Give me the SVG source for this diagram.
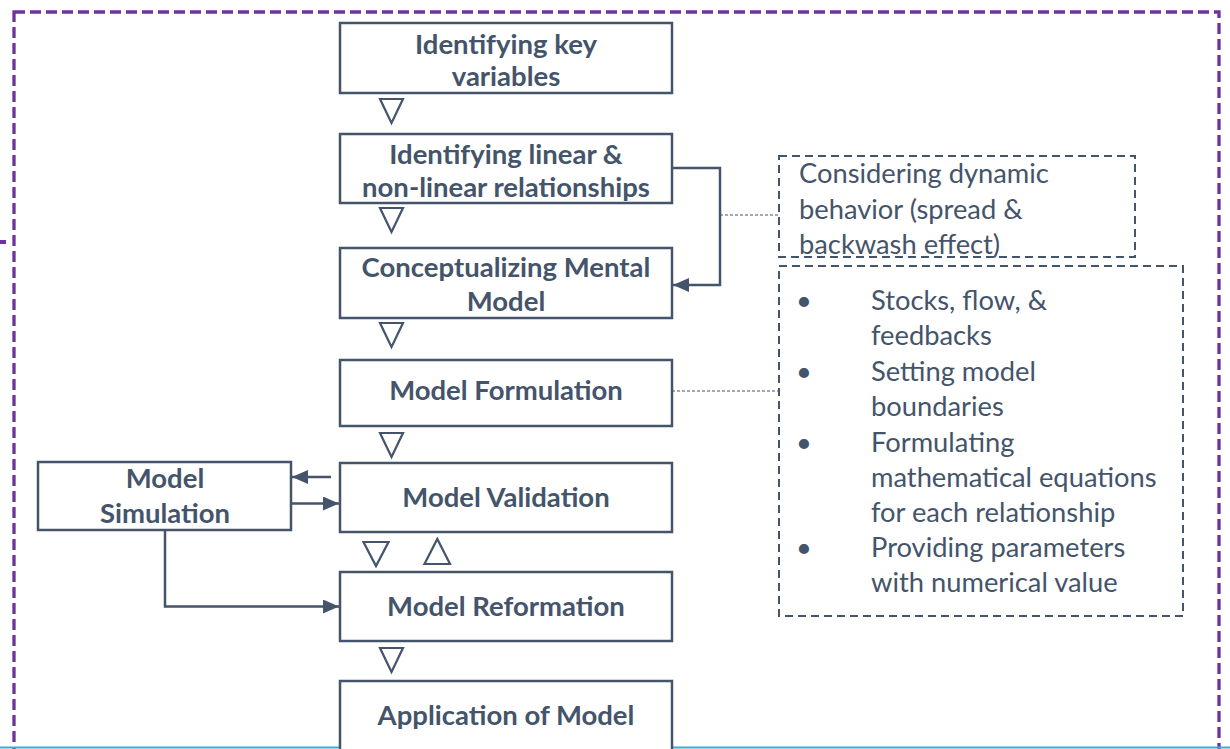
<svg xmlns="http://www.w3.org/2000/svg" width="1230" height="749" viewBox="0 0 1230 749">
<defs>
<style>
.box{fill:#fff;stroke:#44546A;stroke-width:2.5}
.tri{fill:#fff;stroke:#44546A;stroke-width:2.2;stroke-linejoin:miter}
.bt{font-family:Lato,"Liberation Sans",sans-serif;font-weight:bold;font-size:27.5px;fill:#44546A;text-anchor:middle}
.rt{font-family:Lato,"Liberation Sans",sans-serif;font-size:27.3px;fill:#44546A}
.dbox{fill:none;stroke:#44546A;stroke-width:2;stroke-dasharray:8,5}
.dot{fill:none;stroke:#44546A;stroke-width:1.2;stroke-dasharray:3,2}
.con{fill:none;stroke:#44546A;stroke-width:2.5}
</style>
<marker id="ah" viewBox="0 0 16 14" refX="16" refY="7" markerWidth="16" markerHeight="14" markerUnits="userSpaceOnUse" orient="auto">
<path d="M0,0 L16,7 L0,14 z" fill="#44546A"/>
</marker>
</defs>
<rect width="1230" height="749" fill="#fff"/>
<g id="frame">
<rect x="14" y="12" width="1205" height="760" fill="none" stroke="#7030A0" stroke-width="3.3" stroke-dasharray="11,5"/>
<line x1="0" y1="242" x2="6" y2="242" stroke="#7030A0" stroke-width="4"/>
<line x1="0" y1="747.5" x2="1230" y2="747.5" stroke="#2EB5D6" stroke-width="2"/>
</g>
<g id="connectors">
<polyline class="con" points="672,168 720,168 720,285 673,285" marker-end="url(#ah)"/>
<line class="dot" x1="720" y1="215" x2="779" y2="215"/>
<line class="dot" x1="672" y1="391" x2="779" y2="391"/>
<line class="con" x1="331" y1="477" x2="292" y2="477" marker-end="url(#ah)"/>
<line class="con" x1="291" y1="503.5" x2="339" y2="503.5" marker-end="url(#ah)"/>
<polyline class="con" points="165,530 165,606.5 339,606.5" marker-end="url(#ah)"/>
<polygon class="tri" points="380,99 403,99 391.5,123"/>
<polygon class="tri" points="380,208 403,208 391.5,232"/>
<polygon class="tri" points="380,323 403,323 391.5,347"/>
<polygon class="tri" points="380,433 403,433 391.5,457"/>
<polygon class="tri" points="363.5,542 388.5,542 376,566"/>
<polygon class="tri" points="424.5,564 450,564 437.3,539"/>
<polygon class="tri" points="380,648 403,648 391.5,672"/>
</g>
<g id="n1"><rect class="box" x="340" y="23" width="332" height="70"/>
<text class="bt" x="506" y="54">Identifying key</text><text class="bt" x="506" y="86">variables</text></g>
<g id="n2"><rect class="box" x="340" y="134" width="332" height="69"/>
<text class="bt" x="506" y="164">Identifying linear &amp;</text><text class="bt" x="506" y="197">non-linear relationships</text></g>
<g id="n3"><rect class="box" x="340" y="248" width="332" height="70"/>
<text class="bt" x="506" y="277">Conceptualizing Mental</text><text class="bt" x="506" y="311">Model</text></g>
<g id="n4"><rect class="box" x="340" y="360" width="332" height="66"/>
<text class="bt" x="506" y="400">Model Formulation</text></g>
<g id="n5"><rect class="box" x="340" y="463" width="332" height="69"/>
<text class="bt" x="506" y="507">Model Validation</text></g>
<g id="n6"><rect class="box" x="340" y="572" width="332" height="69"/>
<text class="bt" x="506" y="616">Model Reformation</text></g>
<g id="n7"><rect class="box" x="340" y="681" width="332" height="90"/>
<text class="bt" x="506" y="725">Application of Model</text></g>
<g id="n8"><rect class="box" x="38" y="462" width="253" height="68"/>
<text class="bt" x="165" y="488">Model</text><text class="bt" x="165" y="523">Simulation</text></g>
<g id="note1"><rect class="dbox" x="779" y="156" width="356" height="101"/>
<text class="rt" x="799" y="183">Considering dynamic</text>
<text class="rt" x="799" y="219">behavior (spread &amp;</text>
<text class="rt" x="799" y="254">backwash effect)</text></g>
<g id="note2"><rect class="dbox" x="779" y="266" width="404" height="350"/>
<text class="rt" x="796" y="310">•</text><text class="rt" x="871" y="310">Stocks, flow, &amp;</text>
<text class="rt" x="871" y="345">feedbacks</text>
<text class="rt" x="796" y="381">•</text><text class="rt" x="871" y="381">Setting model</text>
<text class="rt" x="871" y="416">boundaries</text>
<text class="rt" x="796" y="452">•</text><text class="rt" x="871" y="452">Formulating</text>
<text class="rt" x="871" y="487">mathematical equations</text>
<text class="rt" x="871" y="522">for each relationship</text>
<text class="rt" x="796" y="557">•</text><text class="rt" x="871" y="557">Providing parameters</text>
<text class="rt" x="871" y="592">with numerical value</text></g>
</svg>
